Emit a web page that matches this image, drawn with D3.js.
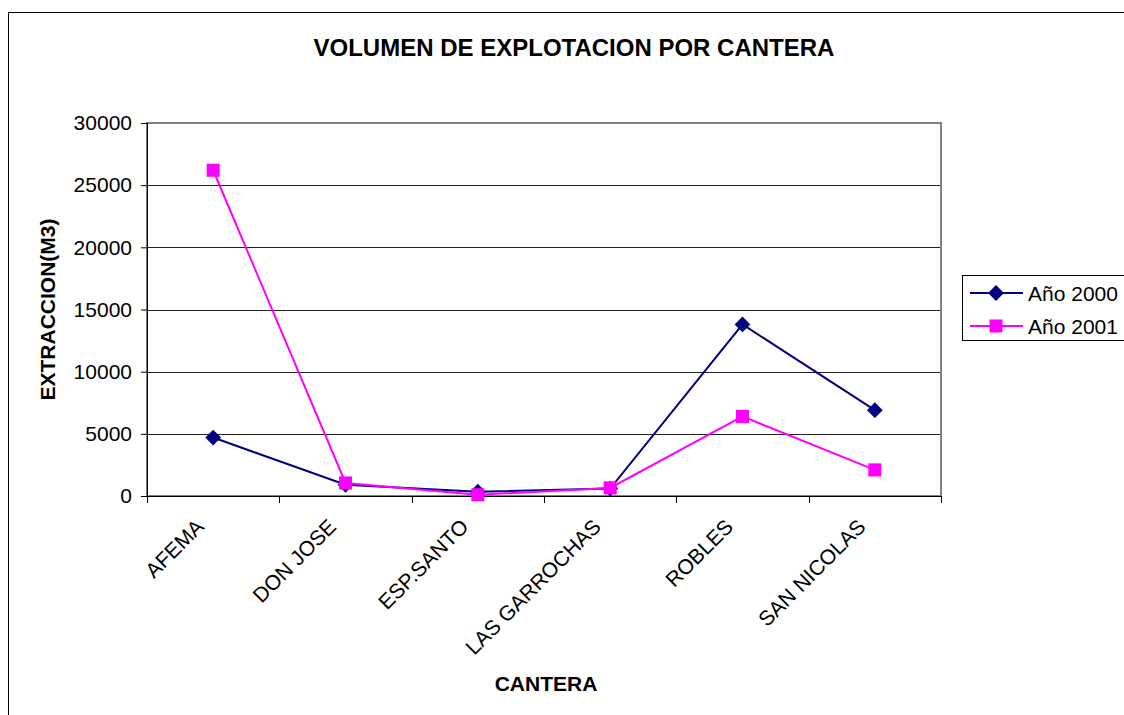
<!DOCTYPE html>
<html>
<head>
<meta charset="utf-8">
<script src="https://cdn.jsdelivr.net/npm/d3@7"></script>
<style>
  body { margin: 0; background: #fff; }
  svg { display: block; font-family: Arial, "Liberation Sans", sans-serif; }
</style>
</head>
<body>
<svg id="chart"></svg>
<script>
const canteras = ['AFEMA', 'DON JOSE', 'ESP.SANTO', 'LAS GARROCHAS', 'ROBLES', 'SAN NICOLAS'];
const anio2000 = [4700, 900, 350, 600, 13800, 6900];
const anio2001 = [26200, 1050, 100, 650, 6400, 2100];
const yTicks = [0, 5000, 10000, 15000, 20000, 25000, 30000];
const seriesNames = ['Año 2000', 'Año 2001'];

const width = 1124;
const height = 715;
const font = 'Arial, "Liberation Sans", sans-serif';

const svg = d3.select('#chart')
  .attr('width', width)
  .attr('height', height);

// outer chart frame (runs off the right/bottom edge like the reference)
svg.append('rect')
  .attr('x', 8.5).attr('y', 12.5)
  .attr('width', 1130).attr('height', 720)
  .attr('fill', '#fff')
  .attr('stroke', '#000')
  .attr('stroke-width', 1);

const plot = { left: 147, top: 123, right: 941, bottom: 496 };

const x = d3.scaleBand()
  .domain(canteras)
  .range([plot.left, plot.right]);

const y = d3.scaleLinear()
  .domain([0, 30000])
  .range([plot.bottom, plot.top]);

// gridlines
svg.append('g')
  .selectAll('line')
  .data(yTicks.filter(d => d > 0))
  .enter()
  .append('line')
    .attr('x1', plot.left).attr('x2', plot.right)
    .attr('y1', d => Math.round(y(d)) + 0.5)
    .attr('y2', d => Math.round(y(d)) + 0.5)
    .attr('stroke', '#222')
    .attr('stroke-width', 1);

// plot area border
svg.append('rect')
  .attr('x', plot.left).attr('y', plot.top)
  .attr('width', plot.right - plot.left)
  .attr('height', plot.bottom - plot.top)
  .attr('fill', 'none')
  .attr('stroke', '#808080')
  .attr('stroke-width', 2);

// y axis
const yAxis = svg.append('g')
  .attr('transform', `translate(${plot.left},0)`)
  .call(d3.axisLeft(y).tickValues(yTicks).tickSize(6).tickPadding(9).tickFormat(d3.format('d')));
yAxis.select('.domain').attr('stroke', '#000');
yAxis.selectAll('.tick line').attr('stroke', '#000');
yAxis.selectAll('text')
  .attr('font-size', 21)
  .attr('font-family', font)
  .attr('fill', '#000');

// x axis: ticks at category boundaries
const xAxis = svg.append('g')
  .attr('transform', `translate(0,${plot.bottom})`);
xAxis.append('line')
  .attr('x1', plot.left).attr('x2', plot.right)
  .attr('y1', 0.5).attr('y2', 0.5)
  .attr('stroke', '#000');
const bounds = canteras.map(d => x(d)).concat([plot.right]);
xAxis.selectAll('line.tick')
  .data(bounds)
  .enter()
  .append('line')
    .attr('class', 'tick')
    .attr('x1', d => Math.round(d) + 0.5).attr('x2', d => Math.round(d) + 0.5)
    .attr('y1', 0).attr('y2', 7)
    .attr('stroke', '#000');
xAxis.selectAll('text')
  .data(canteras)
  .enter()
  .append('text')
    .attr('transform', d => `translate(${x(d) + x.bandwidth() / 2 - 8},${32}) rotate(-45)`)
    .attr('text-anchor', 'end')
    .attr('font-size', 21)
    .attr('fill', '#000')
    .text(d => d);

// series
const series = [
  { name: seriesNames[0], values: anio2000, color: '#000080', shape: 'diamond' },
  { name: seriesNames[1], values: anio2001, color: '#FF00FF', shape: 'square' }
];

const marker = s => s.shape === 'square'
  ? { d: d3.symbol().type(d3.symbolSquare).size(170)(), rot: 0 }
  : { d: d3.symbol().type(d3.symbolSquare).size(125)(), rot: 45 };

const line = d3.line()
  .x((d, i) => x(canteras[i]) + x.bandwidth() / 2)
  .y(d => y(d));

series.forEach(s => {
  svg.append('path')
    .datum(s.values)
    .attr('fill', 'none')
    .attr('stroke', s.color)
    .attr('stroke-width', 2)
    .attr('d', line);

  const m = marker(s);
  svg.append('g')
    .selectAll('path')
    .data(s.values)
    .enter()
    .append('path')
      .attr('transform', (d, i) => `translate(${x(canteras[i]) + x.bandwidth() / 2},${y(d)}) rotate(${m.rot})`)
      .attr('d', m.d)
      .attr('fill', s.color);
});

// title and axis titles
svg.append('text')
  .attr('x', 574).attr('y', 56)
  .attr('text-anchor', 'middle')
  .attr('font-size', 24)
  .attr('font-weight', 'bold')
  .text('VOLUMEN DE EXPLOTACION POR CANTERA');

svg.append('text')
  .attr('transform', `translate(55,${(plot.top + plot.bottom) / 2 + 0}) rotate(-90)`)
  .attr('text-anchor', 'middle')
  .attr('font-size', 21)
  .attr('font-weight', 'bold')
  .text('EXTRACCION(M3)');

svg.append('text')
  .attr('x', 546).attr('y', 691)
  .attr('text-anchor', 'middle')
  .attr('font-size', 21)
  .attr('font-weight', 'bold')
  .text('CANTERA');

// legend
const legend = svg.append('g').attr('transform', 'translate(962,275)');
legend.append('rect')
  .attr('x', 0.5).attr('y', 0.5)
  .attr('width', 170).attr('height', 65)
  .attr('fill', '#fff')
  .attr('stroke', '#000');

const item = legend.selectAll('g.item')
  .data(series)
  .enter()
  .append('g')
    .attr('class', 'item')
    .attr('transform', (d, i) => `translate(0,${18 + i * 33})`);
item.append('line')
  .attr('x1', 8).attr('x2', 61)
  .attr('stroke', d => d.color)
  .attr('stroke-width', 2);
item.append('path')
  .attr('transform', d => `translate(34,0) rotate(${marker(d).rot})`)
  .attr('d', d => marker(d).d)
  .attr('fill', d => d.color);
item.append('text')
  .attr('x', 66).attr('y', 7.5)
  .attr('font-size', 21)
  .text(d => d.name);
</script>
</body>
</html>
